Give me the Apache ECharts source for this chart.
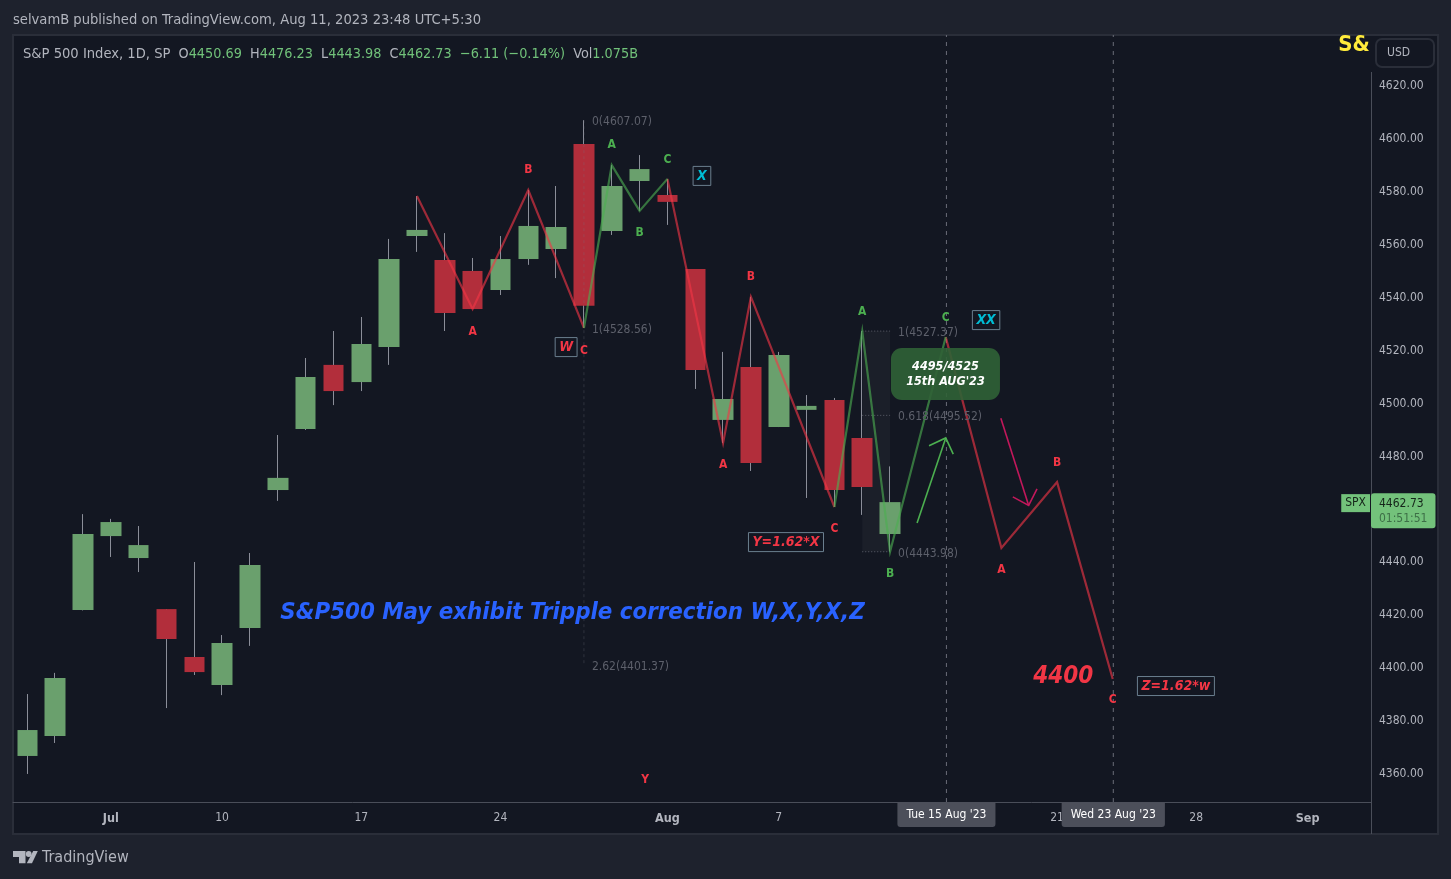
<!DOCTYPE html>
<html>
<head>
<meta charset="utf-8">
<title>S&amp;P 500 Index, 1D</title>
<script src="https://cdn.jsdelivr.net/npm/echarts@6/dist/echarts.min.js"></script>
<style>
  html, body { margin: 0; padding: 0; background: #1e222d; }
  #grafico { width: 1451px; height: 879px; }
</style>
</head>
<body>
<div id="grafico"></div>
<script>
// ---- candles, one per trading day, index 0 = 28 Jun 2023 ----
const opens  = [4366.8, 4374.3, 4422.0, 4449.9, 4441.6, 4422.3, 4404.2, 4393.6, 4415.2, 4467.3, 4490.4, 4514.6, 4508.1, 4521.4, 4563.3, 4554.2, 4550.1, 4542.9, 4554.6, 4558.4, 4598.1, 4565.2, 4584.1, 4578.8, 4550.8, 4493.8, 4513.8, 4491.1, 4497.6, 4501.3, 4487.0, 4450.69];
const closes = [4376.6, 4396.3, 4450.7, 4455.2, 4446.5, 4411.0, 4398.5, 4409.5, 4439.0, 4471.9, 4510.0, 4504.7, 4522.5, 4554.6, 4565.6, 4534.2, 4535.7, 4554.6, 4567.1, 4566.7, 4536.9, 4582.2, 4588.6, 4576.2, 4512.7, 4501.7, 4477.5, 4518.3, 4499.1, 4467.3, 4468.4, 4462.73];
const lows   = [4360.0, 4371.7, 4421.8, 4442.0, 4436.3, 4384.9, 4397.4, 4389.8, 4408.4, 4463.2, 4490.0, 4499.4, 4504.7, 4514.6, 4557.3, 4527.4, 4535.7, 4541.0, 4552.4, 4547.4, 4528.56, 4563.7, 4572.8, 4567.5, 4505.5, 4485.1, 4474.5, 4491.1, 4464.3, 4460.9, 4457.9, 4443.98];
const highs  = [4390.2, 4398.2, 4458.2, 4456.4, 4453.7, 4422.3, 4440.1, 4412.5, 4443.5, 4488.1, 4517.2, 4527.4, 4532.7, 4562.2, 4578.4, 4564.4, 4555.0, 4563.3, 4580.7, 4582.2, 4607.07, 4590.1, 4593.9, 4584.9, 4550.8, 4519.5, 4540.3, 4519.5, 4503.2, 4502.1, 4527.37, 4476.23];

// ---- axes ----
const timeTicks = [3, 7, 12, 17, 23, 27, 37, 42, 46];
const timeLabels = ['Jul', '10', '17', '24', 'Aug', '7', '21', '28', 'Sep'];
const priceTicks = [4360, 4380, 4400, 4420, 4440, 4460, 4480, 4500, 4520, 4540, 4560, 4580, 4600, 4620];

// ---- wave drawings: [candle index, price] ----
const redWaves = [
  [[14, 4578.4], [16, 4535.7], [18, 4580.7], [20, 4528.56]],
  [[23, 4584.9], [25, 4485.1], [26, 4540.3], [29, 4460.9]],
  [[33, 4525.1], [35, 4445.4], [37, 4470.3], [39, 4395.9]]
];
const greenWaves = [
  [[20, 4528.56], [21, 4590.1], [22, 4572.8], [23, 4584.9]],
  [[29, 4460.9], [30, 4527.37], [31, 4443.98], [33, 4525.1]]
];
const greenArrow = [[31.97, 4454.8], [33, 4487.0]];
const greenArrowHead = [[32.4, 4484.0], [33, 4487.0], [33.27, 4480.9]];
const pinkArrow = [[34.98, 4494.4], [35.98, 4461.5]];
const pinkArrowHead = [[35.41, 4464.7], [35.98, 4461.5], [36.28, 4467.7]];

// ---- wave letters: [candle index, price, text] ----
const redLetters = [[16, 4527.4, 'A'], [18, 4588.6, 'B'], [20, 4520.2, 'C'], [25, 4477.1, 'A'], [26, 4548.2, 'B'], [29, 4453.0, 'C'], [35, 4437.5, 'A'], [37, 4477.9, 'B'], [39, 4388.3, 'C'], [22.2, 4358.1, 'Y']];
const greenLetters = [[21, 4598.1, 'A'], [22, 4564.8, 'B'], [23, 4592.4, 'C'], [30, 4535.0, 'A'], [31, 4436.0, 'B'], [33, 4532.7, 'C']];

// ---- fib retracements ----
const fibLevels = [[31, 4527.37, '1(4527.37)'], [31, 4495.52, '0.618(4495.52)'], [31, 4443.98, '0(4443.98)'], [20, 4607.07, '0(4607.07)'], [20, 4528.56, '1(4528.56)'], [20, 4401.37, '2.62(4401.37)']];
const fibDotted = [[[30, 4527.37], [31, 4527.37]], [[30, 4495.52], [31, 4495.52]], [[30, 4443.98], [31, 4443.98]]];
const fibShade = [[30, 4527.37], [31, 4443.98]];
const fibStem = [[20, 4607.07], [20, 4401.37]];

// ---- text notes ----
const redBoxes = [[19.36, 4521.7, 'W'], [27.26, 4448.0, 'Y=1.62*X'], [41.27, 4393.6, 'Z=1.62*w']];
const cyanBoxes = [[24.24, 4586.4, 'X'], [34.45, 4531.9, 'XX']];
const targetNote = [[32.99, 4511.5, "4495/4525\n15th AUG'23"]];
const blueNote = [[19.59, 4421.2, 'S&P500 May exhibit Tripple correction W,X,Y,X,Z']];
const redNote = [[37.22, 4397.0, '4400']];
const yellowNote = [[47.67, 4635.9, 'S&']];

// ---- crosshairs and last price ----
const crossIndex = [33.025, 39.02];
const crossDates = ["Tue 15 Aug '23", "Wed 23 Aug '23"];
const lastPrice = 4462.73;
const lastCountdown = '01:51:51';

const X_MIN = -0.514, X_MAX = 48.28, Y_MIN = 4349.4, Y_MAX = 4639.27;
const FONTE = '"DejaVu Sans Condensed", "DejaVu Sans", sans-serif';
const VERDE = '#6aa06d', VERMELHO = '#b22e3b', CINZA = '#b2b5be', BORDA = '#2a2e39';

function linha(data, cor, largura, tipo) {
  return { type: 'line', data: data, symbol: 'none', silent: true, z: 4,
    lineStyle: { color: cor, width: largura, type: tipo || 'solid', join: 'miter' } };
}

// Invisible points that only carry a text label
function textos(rows, label, z) {
  return { type: 'scatter', symbolSize: 0, silent: true, clip: false, z: z || 6,
    itemStyle: { opacity: 1 },
    data: rows.map(r => ({ value: [r[0], r[1]], name: r[2] })),
    label: Object.assign({ show: true, position: 'inside', formatter: '{b}', fontFamily: FONTE, offset: [0, 1] }, label) };
}

function caixa(cor) {
  return { color: cor, fontStyle: 'italic', fontWeight: 'bold', fontSize: 14,
    borderColor: '#6b7f8f', borderWidth: 1, padding: [3, 4, 2, 4] };
}

// On a value axis the candlestick rows start with their x value
const corpos = opens.map((o, i) => [i, o, closes[i], Math.min(o, closes[i]), Math.max(o, closes[i])]);
const pavios = opens.map((o, i) => [i, o, closes[i], lows[i], highs[i]]);

const series = [
  // dashed crosshairs, below everything
  ...crossIndex.map(x => Object.assign(linha([[x, Y_MIN], [x, Y_MAX]], '#6a6d78', 1, [4, 5]), { z: 1 })),
  { type: 'candlestick', data: pavios, barWidth: 1, silent: true, z: 2,
    itemStyle: { color: '#8b8e99', color0: '#8b8e99', borderColor: '#8b8e99', borderColor0: '#8b8e99', borderWidth: 1 } },
  { type: 'candlestick', data: corpos, barWidth: 21, silent: true, z: 3,
    itemStyle: { color: VERDE, color0: VERMELHO, borderColor: VERDE, borderColor0: VERMELHO, borderWidth: 0 } },
  Object.assign(linha(fibStem, 'rgba(120,123,134,0.28)', 1, [3, 3]), {
    markArea: { silent: true, itemStyle: { color: 'rgba(255,255,255,0.035)' },
      data: [[{ coord: fibShade[0] }, { coord: fibShade[1] }]] } }),
  ...fibDotted.map(d => linha(d, '#5d606b', 1, [1, 2])),
  ...redWaves.map(d => linha(d, 'rgba(242,54,69,0.62)', 2.2)),
  ...greenWaves.map(d => linha(d, 'rgba(76,175,80,0.62)', 2.2)),
  linha(greenArrow, '#4caf50', 1.6), linha(greenArrowHead, '#4caf50', 1.6),
  linha(pinkArrow, '#c2185b', 1.6), linha(pinkArrowHead, '#c2185b', 1.6),
  textos(redLetters, { color: '#f23645', fontSize: 12, fontWeight: 'bold' }),
  textos(greenLetters, { color: '#4caf50', fontSize: 12, fontWeight: 'bold' }),
  textos(fibLevels, { color: '#5d606b', fontSize: 12, position: 'right', distance: 8, offset: [0, 2] }),
  textos(redBoxes, caixa('#f23645')),
  textos(cyanBoxes, caixa('#00bcd4')),
  textos(targetNote, { color: '#fff', fontStyle: 'italic', fontWeight: 'bold', fontSize: 12.5, lineHeight: 15,
    backgroundColor: 'rgba(48,98,54,0.9)', borderRadius: 11, width: 109, height: 52, align: 'center' }, 5),
  textos(blueNote, { color: '#2962ff', fontStyle: 'italic', fontWeight: 'bold', fontSize: 23.8 }),
  textos(redNote, { color: '#f23645', fontStyle: 'italic', fontWeight: 'bold', fontSize: 24 }),
  textos(yellowNote, { color: '#ffeb3b', fontWeight: 'bold', fontSize: 22 }),
  // date tags on the time axis
  textos(crossIndex.map((x, i) => [x, Y_MIN, crossDates[i]]), { color: '#fff', fontSize: 12, position: 'bottom', distance: 0, offset: [0, 0],
    backgroundColor: '#4c4f5a', borderRadius: [0, 0, 3, 3], padding: [7, 9, 6, 9] }, 7),
  // last price tags on the price scale
  textos([[X_MAX, lastPrice, 'SPX']], { color: '#15251a', fontSize: 12, position: 'left', distance: 1, offset: [0, 1],
    backgroundColor: '#73c27b', padding: [3, 4, 3, 4] }, 7),
  { type: 'scatter', symbolSize: 0, silent: true, clip: false, z: 7, itemStyle: { opacity: 1 }, data: [[X_MAX, lastPrice]],
    label: { show: true, position: 'right', distance: 0, offset: [0, 8.5], fontFamily: FONTE,
      formatter: '{p|' + lastPrice.toFixed(2) + '}\n{c|' + lastCountdown + '}',
      backgroundColor: '#73c27b', borderRadius: 3, padding: [3, 8, 2, 8],
      rich: { p: { color: '#15251a', fontSize: 12, lineHeight: 15, fontFamily: FONTE },
              c: { color: '#3d6f47', fontSize: 12, lineHeight: 15, fontFamily: FONTE } } } }
];

const option = {
  animation: false,
  backgroundColor: '#1e222d',
  title: [
    { left: 13, top: 13, padding: 0, text: 'selvamB published on TradingView.com, Aug 11, 2023 23:48 UTC+5:30',
      textStyle: { color: CINZA, fontSize: 14.6, fontWeight: 'normal', fontFamily: FONTE } },
    { left: 23, top: 47, padding: 0,
      text: '{s|S&P 500 Index, 1D, SP}{n|  O}{v|4450.69}{n|  H}{v|4476.23}{n|  L}{v|4443.98}{n|  C}{v|4462.73}{v|  −6.11 (−0.14%)}{n|  Vol}{v|1.075B}',
      textStyle: { fontWeight: 'normal', rich: {
        s: { color: CINZA, fontSize: 14.6, fontWeight: 'normal', fontFamily: FONTE },
        n: { color: CINZA, fontSize: 14.3, fontWeight: 'normal', fontFamily: FONTE },
        v: { color: '#71c27a', fontSize: 14.3, fontWeight: 'normal', fontFamily: FONTE } } } }
  ],
  grid: { left: 13, right: 80, top: 35, bottom: 77 },
  xAxis: {
    type: 'value', min: X_MIN, max: X_MAX, splitLine: { show: false },
    axisLine: { onZero: false, lineStyle: { color: '#4a4e59', width: 1 } },
    axisTick: { show: false },
    axisLabel: { customValues: timeTicks, margin: 10, color: CINZA, fontSize: 12, fontFamily: FONTE,
      formatter: v => {
        const txt = timeLabels[timeTicks.indexOf(v)];
        // month names are heavier than day numbers
        return isNaN(txt) ? '{m|' + txt + '}' : txt;
      },
      rich: { m: { color: CINZA, fontSize: 12.5, fontWeight: 'bold', fontFamily: FONTE } } }
  },
  yAxis: {
    type: 'value', position: 'right', min: Y_MIN, max: Y_MAX, splitLine: { show: false },
    axisLine: { show: false },
    axisTick: { show: false },
    axisLabel: { customValues: priceTicks, margin: 8, padding: [7, 0, 0, 0], color: CINZA, fontSize: 12, fontFamily: FONTE,
      formatter: v => v.toFixed(2) }
  },
  graphic: [
    // chart panel and price scale frame
    { type: 'rect', z: -10, silent: true, shape: { x: 13, y: 35, width: 1425, height: 799 },
      style: { fill: '#131722', stroke: BORDA, lineWidth: 2 } },
    { type: 'line', z: 1, silent: true, shape: { x1: 1371.5, y1: 72, x2: 1371.5, y2: 834 }, style: { stroke: '#4a4e59', lineWidth: 1 } },
    { type: 'rect', z: 1, silent: true, shape: { x: 1376, y: 39, width: 58, height: 28, r: 6 }, style: { fill: '#131722', stroke: BORDA, lineWidth: 2 } },
    { type: 'text', z: 2, silent: true, left: 1387, top: 47, style: { text: 'USD', fill: CINZA, font: '12px ' + FONTE } },
    // TradingView mark and name
    { type: 'polygon', silent: true, shape: { points: [[13, 851], [25.5, 851], [25.5, 863.3], [19, 863.3], [19, 857], [13, 857]] }, style: { fill: CINZA } },
    { type: 'circle', silent: true, shape: { cx: 28.7, cy: 854, r: 2.9 }, style: { fill: CINZA } },
    { type: 'polygon', silent: true, shape: { points: [[33.2, 851], [37.8, 851], [32, 863.3], [26.8, 863.3]] }, style: { fill: CINZA } },
    { type: 'text', silent: true, left: 42, top: 850, style: { text: 'TradingView', fill: CINZA, font: '16px ' + FONTE } }
  ],
  series: series
};

const myChart = echarts.init(document.getElementById('grafico'));
myChart.setOption(option);
</script>
</body>
</html>
